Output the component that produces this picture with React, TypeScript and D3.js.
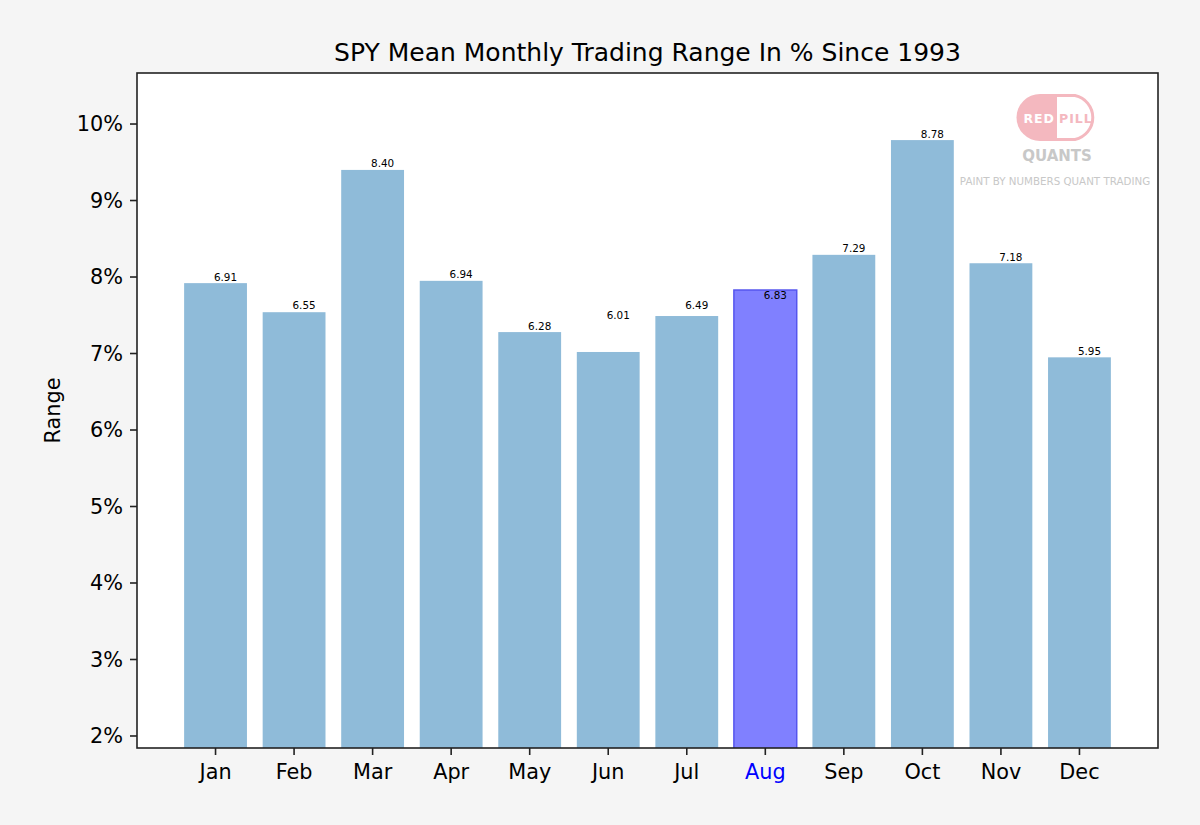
import * as d3 from "d3";
import React from "react";

const months = ["Jan", "Feb", "Mar", "Apr", "May", "Jun", "Jul", "Aug", "Sep", "Oct", "Nov", "Dec"];
// bar heights in %
const rangeValues = [7.92, 7.54, 9.4, 7.95, 7.28, 7.02, 7.49, 7.83, 8.29, 9.79, 8.18, 6.95];
// printed labels and where they sit (data units)
const labelTexts = ["6.91", "6.55", "8.40", "6.94", "6.28", "6.01", "6.49", "6.83", "7.29", "8.78", "7.18", "5.95"];
const labelAt = [8.0, 7.63, 9.48, 8.03, 7.36, 7.5, 7.63, 7.76, 8.37, 9.87, 8.26, 7.03];
const yTicks = [2, 3, 4, 5, 6, 7, 8, 9, 10];
const highlight = "Aug";

const W = 1200;
const H = 825;
const left = 137;
const right = 1158;
const top = 73;
const bottom = 748;
const font = "DejaVu Sans, sans-serif";

const App: React.FC = () => {
  const x = d3.scaleLinear().domain([-1, 12]).range([left, right]);
  const y = d3.scaleLinear().domain([1.843, 10.667]).range([bottom, top]);
  const bw = x(0.8) - x(0);

  return (
    <svg width={W} height={H} style={{ display: "block", position: "absolute", left: 0, top: 0 }}>
      <defs>
        <clipPath id="plot">
          <rect x={left} y={top} width={right - left} height={bottom - top} />
        </clipPath>
      </defs>
      <rect width={W} height={H} fill="#f5f5f5" />
      <rect x={left} y={top} width={right - left} height={bottom - top} fill="#fff" />

      {/* logo */}
      <g>
        <path d={`M1058,94 H1040 A23.5,23.5 0 0 0 1040,141 H1058 Z`} fill="#f4b8bf" />
        <path
          d={`M1057,95.5 H1075 A22.5,22.5 0 0 1 1075,139.5 H1057`}
          fill="#fff"
          stroke="#f4b8bf"
          strokeWidth={3}
        />
        <text x={1055} y={123} textAnchor="end" fontFamily={font} fontWeight="bold" fontSize={12.5} fill="#fff" letterSpacing={1}>
          RED
        </text>
        <text x={1059} y={123} textAnchor="start" fontFamily={font} fontWeight="bold" fontSize={12.5} fill="#f4b8bf" letterSpacing={1}>
          PILL
        </text>
        <text x={1057} y={161} textAnchor="middle" fontFamily={font} fontWeight="bold" fontSize={15} fill="#c8c8c8">
          QUANTS
        </text>
        <text x={1055} y={185} textAnchor="middle" fontFamily={font} fontSize={10.3} fill="#c8c8c8">
          PAINT BY NUMBERS QUANT TRADING
        </text>
      </g>

      <g clipPath="url(#plot)">
        {rangeValues.map((v, i) => {
          const hl = months[i] === highlight;
          return (
            <rect
              key={months[i]}
              x={x(i) - bw / 2}
              y={y(v)}
              width={bw}
              height={y(0) - y(v)}
              fill={hl ? "#8080ff" : "#8fbbd9"}
              stroke={hl ? "#5555ee" : "none"}
              strokeWidth={hl ? 1.5 : 0}
            />
          );
        })}
      </g>

      {labelTexts.map((t, i) => (
        <text
          key={t + i}
          x={x(i) + 10}
          y={y(labelAt[i])}
          dy="0.35em"
          textAnchor="middle"
          fontFamily={font}
          fontSize={10.4}
          fill="#000"
        >
          {t}
        </text>
      ))}

      <rect x={left} y={top} width={right - left} height={bottom - top} fill="none" stroke="#222" strokeWidth={1.6} />

      {yTicks.map((t) => (
        <g key={t} transform={`translate(0,${y(t)})`}>
          <line x1={left - 7} x2={left} stroke="#222" strokeWidth={1.6} />
          <text x={left - 14} dy="0.35em" textAnchor="end" fontFamily={font} fontSize={20.8} fill="#000">
            {`${t}%`}
          </text>
        </g>
      ))}

      {months.map((m, i) => (
        <g key={m} transform={`translate(${x(i)},0)`}>
          <line y1={bottom} y2={bottom + 7} stroke="#222" strokeWidth={1.6} />
          <text
            y={bottom + 31}
            textAnchor="middle"
            fontFamily={font}
            fontSize={20.8}
            fill={m === highlight ? "blue" : "#000"}
          >
            {m}
          </text>
        </g>
      ))}

      <text
        transform={`translate(60,${(top + bottom) / 2}) rotate(-90)`}
        textAnchor="middle"
        fontFamily={font}
        fontSize={20.8}
        fill="#000"
      >
        Range
      </text>
      <text x={(left + right) / 2} y={61} textAnchor="middle" fontFamily={font} fontSize={25} fill="#000">
        SPY Mean Monthly Trading Range In % Since 1993
      </text>
    </svg>
  );
};

export default App;
